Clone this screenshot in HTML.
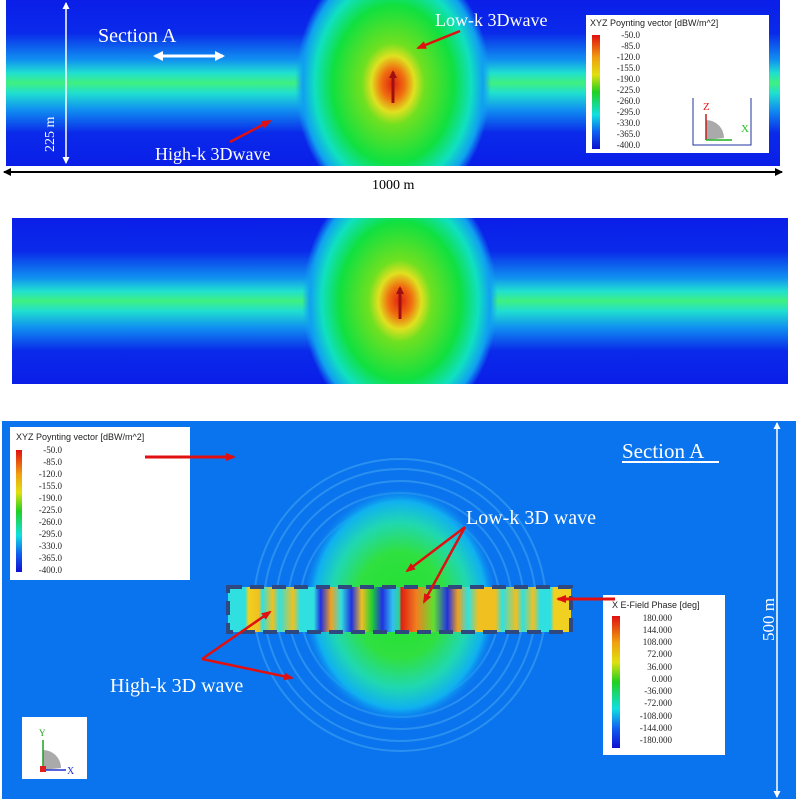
<!DOCTYPE html>
<html><head><meta charset="utf-8"><style>
body{margin:0;background:#fff;width:798px;height:800px;overflow:hidden}
svg{display:block}
text{font-family:"Liberation Serif",serif}
.s{font-family:"Liberation Sans",sans-serif;font-size:9px;fill:#222}
</style></head><body>
<svg width="798" height="800" viewBox="0 0 798 800" xmlns="http://www.w3.org/2000/svg">
<defs>
<clipPath id="c1"><rect x="6" y="0" width="774" height="166"/></clipPath>
<clipPath id="c2"><rect x="12" y="218" width="776" height="166"/></clipPath>
<linearGradient id="band" x1="0" y1="0" x2="0" y2="1">
<stop offset="0" stop-color="#0a1ee8"/><stop offset="0.2" stop-color="#0a2aea"/>
<stop offset="0.36" stop-color="#1090f0"/><stop offset="0.44" stop-color="#20e0d0"/>
<stop offset="0.5" stop-color="#40f080"/><stop offset="0.56" stop-color="#20e0d0"/>
<stop offset="0.66" stop-color="#1090f0"/><stop offset="0.8" stop-color="#0a2aea"/>
<stop offset="1" stop-color="#0a1ee8"/></linearGradient>
<radialGradient id="blob" cx="0.5" cy="0.5" r="0.5">
<stop offset="0" stop-color="#e02010"/><stop offset="0.12" stop-color="#f07010"/>
<stop offset="0.22" stop-color="#e0e020"/><stop offset="0.32" stop-color="#70e020"/>
<stop offset="0.62" stop-color="#10e040"/><stop offset="0.8" stop-color="#10e0c0"/>
<stop offset="0.92" stop-color="#10a0f0"/><stop offset="1" stop-color="#10a0f0" stop-opacity="0"/></radialGradient>
<radialGradient id="blob3" cx="0.5" cy="0.5" r="0.5">
<stop offset="0" stop-color="#20e030"/><stop offset="0.45" stop-color="#30e040"/>
<stop offset="0.7" stop-color="#20d8b0"/><stop offset="0.88" stop-color="#10b0f0"/>
<stop offset="1" stop-color="#0a78f0" stop-opacity="0"/></radialGradient>
<linearGradient id="cb1" x1="0" y1="0" x2="0" y2="1">
<stop offset="0" stop-color="#e01010"/><stop offset="0.2" stop-color="#f0a010"/>
<stop offset="0.35" stop-color="#e0e010"/><stop offset="0.5" stop-color="#20d020"/>
<stop offset="0.7" stop-color="#10e0e0"/><stop offset="0.85" stop-color="#1060f0"/>
<stop offset="1" stop-color="#1010d0"/></linearGradient>
<linearGradient id="strip" x1="0" y1="0" x2="1" y2="0">
<stop offset="0" stop-color="#30e0e0"/><stop offset="0.05" stop-color="#30e0e0"/>
<stop offset="0.06" stop-color="#f0d020"/><stop offset="0.09" stop-color="#f0c020"/><stop offset="0.1" stop-color="#30e0e0"/>
<stop offset="0.13" stop-color="#f0c020"/><stop offset="0.15" stop-color="#30e0e0"/>
<stop offset="0.19" stop-color="#f0c020"/><stop offset="0.21" stop-color="#30e0e0"/>
<stop offset="0.25" stop-color="#30e0e0"/><stop offset="0.27" stop-color="#2030e0"/>
<stop offset="0.3" stop-color="#f0a020"/><stop offset="0.33" stop-color="#30e0e0"/>
<stop offset="0.36" stop-color="#2030e0"/><stop offset="0.39" stop-color="#f0c020"/>
<stop offset="0.42" stop-color="#20d030"/><stop offset="0.45" stop-color="#2030e0"/>
<stop offset="0.48" stop-color="#30c0f0"/><stop offset="0.5" stop-color="#30d090"/>
<stop offset="0.505" stop-color="#e02010"/><stop offset="0.55" stop-color="#f08020"/>
<stop offset="0.6" stop-color="#60e030"/><stop offset="0.64" stop-color="#2030e0"/>
<stop offset="0.67" stop-color="#f0a020"/><stop offset="0.7" stop-color="#30e0e0"/>
<stop offset="0.73" stop-color="#f0c020"/><stop offset="0.78" stop-color="#f0c020"/>
<stop offset="0.8" stop-color="#30e0e0"/><stop offset="0.84" stop-color="#f0c020"/>
<stop offset="0.86" stop-color="#30e0e0"/><stop offset="0.89" stop-color="#f0c020"/>
<stop offset="0.91" stop-color="#30e0e0"/><stop offset="0.94" stop-color="#30e0e0"/>
<stop offset="0.95" stop-color="#f0d020"/><stop offset="1" stop-color="#f0d020"/></linearGradient>
<marker id="ar" markerUnits="userSpaceOnUse" markerWidth="10" markerHeight="8" refX="8" refY="4" orient="auto"><path d="M0,0L10,4L0,8z" fill="#e01010"/></marker>
<marker id="ad" markerUnits="userSpaceOnUse" markerWidth="8" markerHeight="8" refX="6" refY="4" orient="auto"><path d="M0,0L8,4L0,8z" fill="#a01010"/></marker>
<marker id="aw" markerUnits="userSpaceOnUse" markerWidth="10" markerHeight="10" refX="8" refY="5" orient="auto-start-reverse"><path d="M0,0L10,5L0,10z" fill="#fff"/></marker>
<marker id="aws" markerUnits="userSpaceOnUse" markerWidth="7" markerHeight="7" refX="6" refY="3.5" orient="auto-start-reverse"><path d="M0,0L7,3.5L0,7z" fill="#fff"/></marker>
<marker id="ak" markerUnits="userSpaceOnUse" markerWidth="8" markerHeight="8" refX="7" refY="4" orient="auto-start-reverse"><path d="M0,0L8,4L0,8z" fill="#000"/></marker>
</defs>

<!-- Panel 1 -->
<rect x="6" y="0" width="774" height="166" fill="url(#band)"/>
<g clip-path="url(#c1)"><ellipse cx="393" cy="84" rx="98" ry="128" fill="url(#blob)"/></g>
<line x1="393" y1="103" x2="393" y2="72" stroke="#a01010" stroke-width="3" marker-end="url(#ad)"/>
<line x1="66" y1="3" x2="66" y2="163" stroke="#fff" stroke-width="1.5" marker-start="url(#aws)" marker-end="url(#aws)"/>
<text x="54" y="152" fill="#fff" font-size="14" transform="rotate(-90 54 152)">225 m</text>
<text x="98" y="42" fill="#fff" font-size="20">Section A</text>
<line x1="155" y1="56" x2="223" y2="56" stroke="#fff" stroke-width="3" marker-start="url(#aw)" marker-end="url(#aw)"/>
<text x="435" y="26" fill="#fff" font-size="18">Low-k 3Dwave</text>
<line x1="460" y1="31" x2="418" y2="48" stroke="#e01010" stroke-width="2.5" marker-end="url(#ar)"/>
<text x="155" y="160" fill="#fff" font-size="18">High-k 3Dwave</text>
<line x1="230" y1="142" x2="270" y2="121" stroke="#e01010" stroke-width="2.5" marker-end="url(#ar)"/>
<rect x="586" y="15" width="183" height="138" fill="#fff"/>
<text class="s" x="590" y="26">XYZ Poynting vector [dBW/m^2]</text>
<rect x="592" y="35" width="8" height="114" fill="url(#cb1)"/>
<g class="s" text-anchor="end">
<text x="640" y="38">-50.0</text><text x="640" y="49">-85.0</text><text x="640" y="60">-120.0</text><text x="640" y="71">-155.0</text><text x="640" y="82">-190.0</text><text x="640" y="93">-225.0</text><text x="640" y="104">-260.0</text><text x="640" y="115">-295.0</text><text x="640" y="126">-330.0</text><text x="640" y="137">-365.0</text><text x="640" y="148">-400.0</text></g>
<path d="M693 98V145H751V98" fill="none" stroke="#2030a0"/>
<path d="M706 140V120A18 18 0 0 1 724 138z" fill="#aaa"/>
<line x1="706" y1="140" x2="706" y2="114" stroke="#c02020" stroke-width="1.5"/>
<text x="703" y="110" fill="#e02020" font-size="11" font-family="Liberation Sans">Z</text>
<line x1="706" y1="140" x2="732" y2="140" stroke="#20b020" stroke-width="1.5"/>
<text x="741" y="132" fill="#20c020" font-size="11" font-family="Liberation Sans">X</text>
<line x1="4" y1="172" x2="782" y2="172" stroke="#000" stroke-width="2" marker-start="url(#ak)" marker-end="url(#ak)"/>
<text x="372" y="189" font-size="14">1000 m</text>

<!-- Panel 2 -->
<rect x="12" y="218" width="776" height="166" fill="url(#band)"/>
<g clip-path="url(#c2)"><ellipse cx="400" cy="301" rx="98" ry="128" fill="url(#blob)"/></g>
<line x1="400" y1="319" x2="400" y2="288" stroke="#a01010" stroke-width="3" marker-end="url(#ad)"/>

<!-- Panel 3 -->
<rect x="2" y="421" width="794" height="378" fill="#0a74ee"/>
<g fill="none" stroke="#2a90f0" stroke-width="2">
<ellipse cx="400" cy="605" rx="100" ry="100"/><ellipse cx="400" cy="605" rx="112" ry="112"/>
<ellipse cx="400" cy="605" rx="124" ry="124"/><ellipse cx="400" cy="605" rx="136" ry="136"/><ellipse cx="400" cy="605" rx="146" ry="146"/></g>
<ellipse cx="400" cy="605" rx="98" ry="118" fill="url(#blob3)"/>
<rect x="228" y="587" width="343" height="45" fill="url(#strip)"/>
<rect x="228" y="587" width="343" height="45" fill="none" stroke="#304880" stroke-width="4" stroke-dasharray="14,8"/>
<rect x="10" y="427" width="180" height="153" fill="#fff"/>
<text class="s" x="16" y="440">XYZ Poynting vector [dBW/m^2]</text>
<rect x="16" y="450" width="6" height="122" fill="url(#cb1)"/>
<g class="s" text-anchor="end">
<text x="62" y="453">-50.0</text><text x="62" y="465">-85.0</text><text x="62" y="477">-120.0</text><text x="62" y="489">-155.0</text><text x="62" y="501">-190.0</text><text x="62" y="513">-225.0</text><text x="62" y="525">-260.0</text><text x="62" y="537">-295.0</text><text x="62" y="549">-330.0</text><text x="62" y="561">-365.0</text><text x="62" y="573">-400.0</text></g>
<line x1="145" y1="457" x2="234" y2="457" stroke="#e01010" stroke-width="3" marker-end="url(#ar)"/>
<text x="622" y="458" fill="#fff" font-size="21">Section A</text>
<line x1="622" y1="462" x2="719" y2="462" stroke="#fff" stroke-width="2"/>
<line x1="777" y1="423" x2="777" y2="797" stroke="#fff" stroke-width="1.5" marker-start="url(#aws)" marker-end="url(#aws)"/>
<text x="774" y="641" fill="#fff" font-size="17" transform="rotate(-90 774 641)">500 m</text>
<text x="466" y="524" fill="#fff" font-size="20">Low-k 3D wave</text>
<line x1="465" y1="527" x2="407" y2="571" stroke="#e01010" stroke-width="2.5" marker-end="url(#ar)"/>
<line x1="465" y1="527" x2="424" y2="602" stroke="#e01010" stroke-width="2.5" marker-end="url(#ar)"/>
<text x="110" y="692" fill="#fff" font-size="20">High-k 3D wave</text>
<line x1="202" y1="659" x2="270" y2="612" stroke="#e01010" stroke-width="2.5" marker-end="url(#ar)"/>
<line x1="202" y1="659" x2="292" y2="678" stroke="#e01010" stroke-width="2.5" marker-end="url(#ar)"/>
<rect x="603" y="595" width="122" height="160" fill="#fff"/>
<text class="s" x="612" y="608">X E-Field Phase [deg]</text>
<rect x="612" y="616" width="8" height="132" fill="url(#cb1)"/>
<g class="s" text-anchor="end">
<text x="672" y="621">180.000</text><text x="672" y="633">144.000</text><text x="672" y="645">108.000</text><text x="672" y="657">72.000</text><text x="672" y="670">36.000</text><text x="672" y="682">0.000</text><text x="672" y="694">-36.000</text><text x="672" y="706">-72.000</text><text x="672" y="719">-108.000</text><text x="672" y="731">-144.000</text><text x="672" y="743">-180.000</text></g>
<line x1="615" y1="599" x2="558" y2="599" stroke="#e01010" stroke-width="3" marker-end="url(#ar)"/>
<rect x="22" y="717" width="65" height="62" fill="#fff"/>
<path d="M43 770V750A18 18 0 0 1 61 768z" fill="#aaa"/>
<line x1="43" y1="770" x2="43" y2="740" stroke="#20a020" stroke-width="1.5"/>
<line x1="43" y1="770" x2="66" y2="770" stroke="#2030d0" stroke-width="1.5"/>
<rect x="40" y="766" width="6" height="6" fill="#e02020"/>
<text x="39" y="736" fill="#20a020" font-size="9" font-family="Liberation Sans">Y</text>
<text x="67" y="774" fill="#2030d0" font-size="10" font-family="Liberation Sans">X</text>
</svg>
</body></html>
